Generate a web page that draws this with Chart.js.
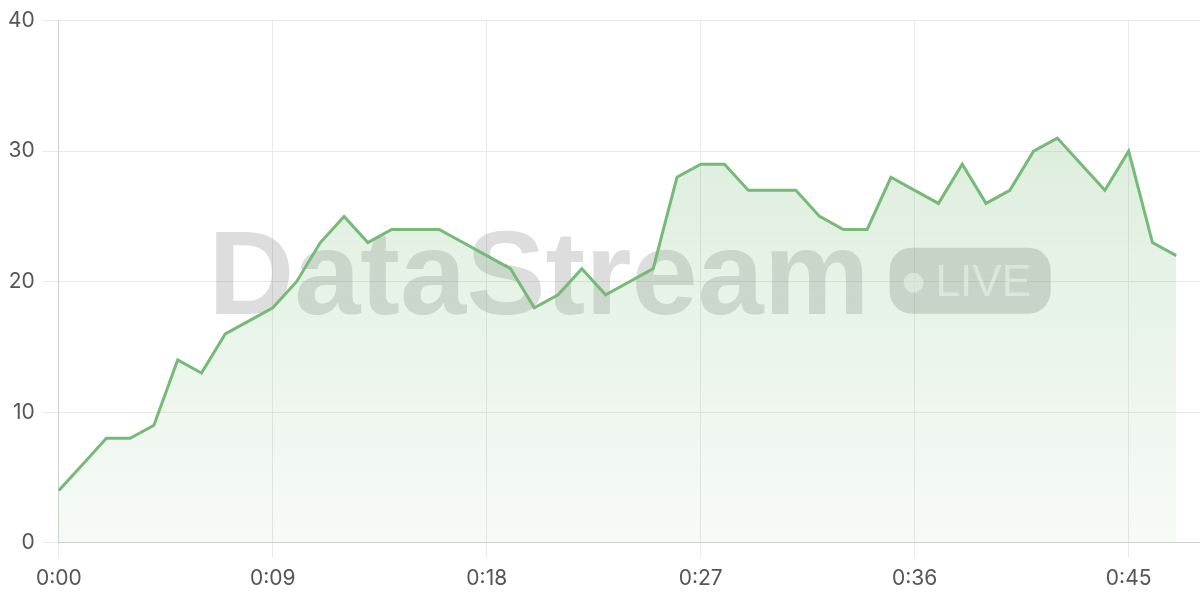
<!DOCTYPE html>
<html>
<head>
<meta charset="utf-8">
<script src="https://cdn.jsdelivr.net/npm/chart.js@4"></script>
<style>
  html, body { margin: 0; padding: 0; background: #fff; }
  #wrap { width: 1200px; height: 600px; }
</style>
</head>
<body>
<div id="wrap"><canvas id="streamChart"></canvas></div>
<script>
const timeLabels = [
  "0:00", "0:01", "0:02", "0:03", "0:04", "0:05", "0:06", "0:07", "0:08", "0:09",
  "0:10", "0:11", "0:12", "0:13", "0:14", "0:15", "0:16", "0:17", "0:18", "0:19",
  "0:20", "0:21", "0:22", "0:23", "0:24", "0:25", "0:26", "0:27", "0:28", "0:29",
  "0:30", "0:31", "0:32", "0:33", "0:34", "0:35", "0:36", "0:37", "0:38", "0:39",
  "0:40", "0:41", "0:42", "0:43", "0:44", "0:45", "0:46", "0:47", "0:48"
];
const viewers = [
  4, 6, 8, 8, 9, 14, 13, 16, 17, 18,
  20, 23, 25, 23, 24, 24, 24, 23, 22, 21,
  18, 19, 21, 19, 20, 21, 28, 29, 29, 27,
  27, 27, 25, 24, 24, 28, 27, 26, 29, 26,
  27, 30, 31, 29, 27, 30, 23, 22
];
const yTicks = [0, 10, 20, 30, 40];
const labelEvery = 9;

const watermark = {
  id: "watermark",
  beforeDatasetsDraw(chart) {
    const { ctx, chartArea } = chart;
    const cx = (chartArea.left + chartArea.right) / 2;
    const cy = (chartArea.top + chartArea.bottom) / 2;
    ctx.save();
    ctx.font = "bold 119px 'Liberation Sans', Arial, sans-serif";
    const textW = ctx.measureText("DataStream").width;
    const gap = 20, pillW = 161, pillH = 66;
    const x0 = cx - (textW + gap + pillW) / 2;
    const base = cy + 32;
    ctx.fillStyle = "rgba(120,120,120,0.25)";
    ctx.textBaseline = "alphabetic";
    ctx.fillText("DataStream", x0, base);

    const px = x0 + textW + gap, py = base - pillH;
    ctx.fillStyle = "rgba(120,120,120,0.28)";
    ctx.beginPath();
    ctx.roundRect(px, py, pillW, pillH, 22);
    ctx.fill();
    ctx.fillStyle = "rgba(255,255,255,0.6)";
    ctx.beginPath();
    ctx.arc(px + 24, py + 35, 10, 0, Math.PI * 2);
    ctx.fill();
    ctx.font = "44px 'Liberation Sans', Arial, sans-serif";
    ctx.fillText("LIVE", px + 46, py + 48);
    ctx.restore();
  }
};

new Chart(document.getElementById("streamChart").getContext("2d"), {
  type: "line",
  data: {
    labels: timeLabels,
    datasets: [{
      data: viewers,
      borderColor: "rgb(118,186,120)",
      borderWidth: 3,
      pointRadius: 0,
      tension: 0,
      fill: "origin",
      backgroundColor: (c) => {
        const area = c.chart.chartArea;
        if (!area) return "rgba(118,186,120,0.2)";
        const g = c.chart.ctx.createLinearGradient(0, area.top, 0, area.bottom);
        g.addColorStop(0, "rgba(118,186,120,0.3)");
        g.addColorStop(1, "rgba(118,186,120,0.06)");
        return g;
      }
    }]
  },
  options: {
    responsive: true,
    maintainAspectRatio: false,
    animation: false,
    layout: { padding: { top: 7, right: 0, bottom: 1, left: 0 } },
    plugins: {
      legend: { display: false },
      tooltip: { enabled: false }
    },
    scales: {
      x: {
        type: "category",
        grid: { color: "#e9e9e9", tickLength: 15 },
        border: { color: "#d0d0d0" },
        ticks: {
          autoSkip: false,
          maxRotation: 0,
          padding: 8,
          color: "#555",
          font: { family: "Inter, 'Noto Sans', sans-serif", size: 21 },
          callback: function (v, i) {
            return i % labelEvery === 0 ? timeLabels[i] : null;
          }
        }
      },
      y: {
        min: yTicks[0],
        max: yTicks[yTicks.length - 1],
        grid: { color: "#e9e9e9", tickLength: 16 },
        border: { color: "#d0d0d0" },
        afterBuildTicks: (s) => { s.ticks = yTicks.map(v => ({ value: v })); },
        ticks: {
          padding: 8,
          color: "#555",
          font: { family: "Inter, 'Noto Sans', sans-serif", size: 21 }
        }
      }
    }
  },
  plugins: [watermark]
});
</script>
</body>
</html>
